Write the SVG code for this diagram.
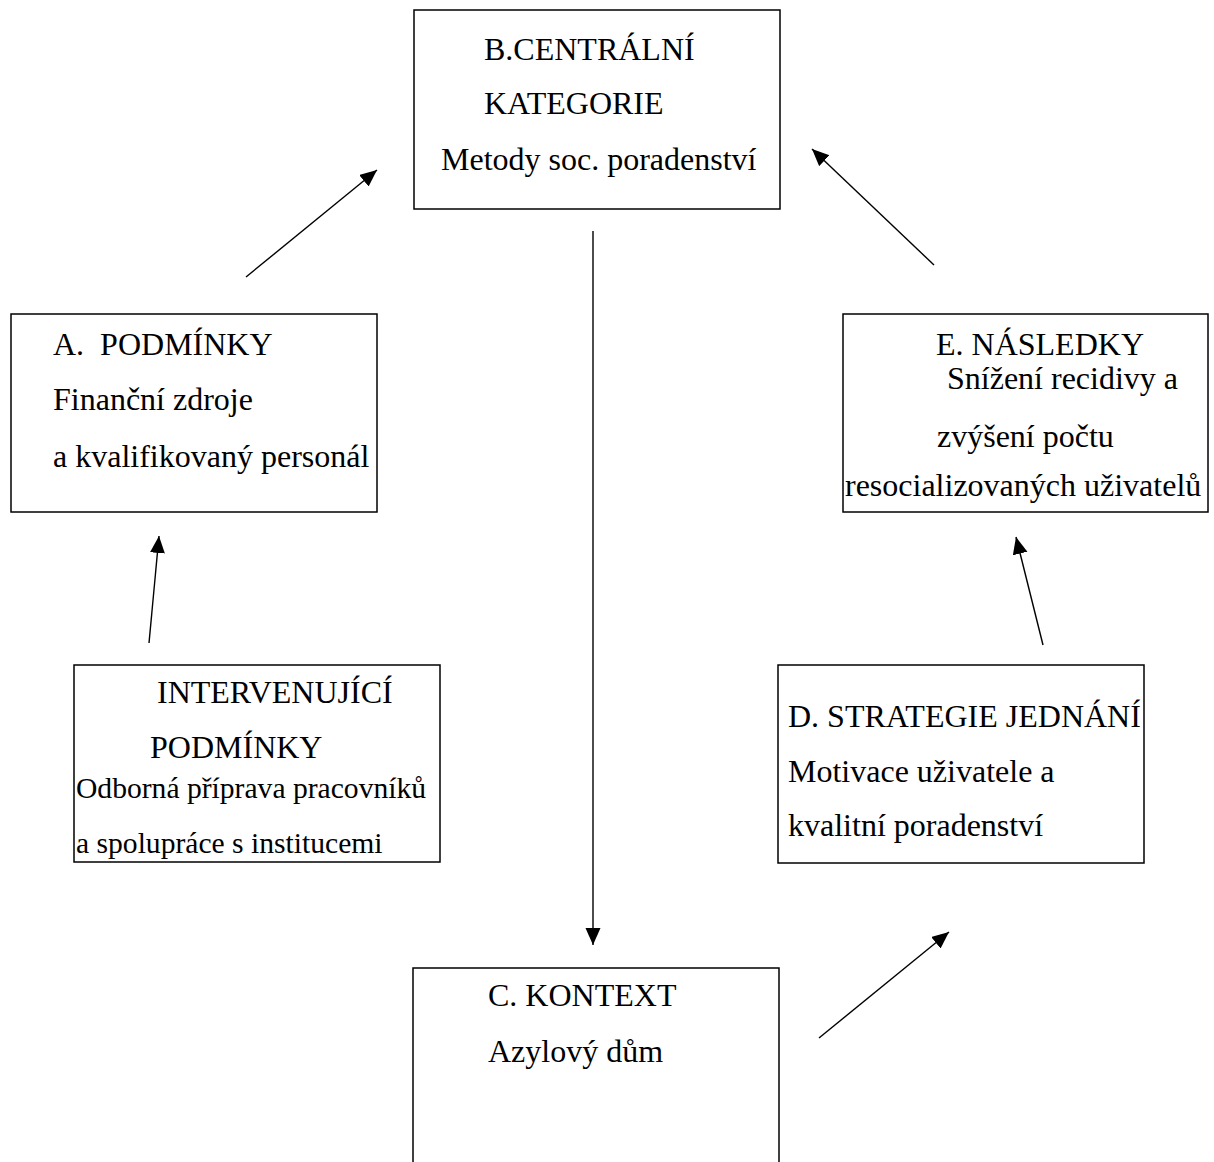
<svg xmlns="http://www.w3.org/2000/svg" width="1214" height="1162" viewBox="0 0 1214 1162">
<style>
.box{fill:#fff;stroke:#000;stroke-width:1.5}
.t{font-family:"Liberation Serif","Times New Roman",serif;font-size:32px;fill:#000}
.s{font-size:29.6px}
.c{stroke:#000;stroke-width:1.4;fill:none;marker-end:url(#ah)}
</style>
<defs>
<marker id="ah" markerUnits="userSpaceOnUse" markerWidth="18" markerHeight="16" refX="17" refY="7.5" orient="auto">
<path d="M0,0 L17,7.5 L0,15 z" fill="#000"/>
</marker>
</defs>
<rect width="1214" height="1162" fill="#fff"/>
<g id="node-B">
<rect class="box" x="414" y="10" width="366" height="199"/>
<text class="t" x="484" y="60">B.CENTRÁLNÍ</text>
<text class="t" x="484" y="114">KATEGORIE</text>
<text class="t" x="441" y="170">Metody soc. poradenství</text>
</g>
<g id="node-A">
<rect class="box" x="11" y="314" width="366" height="198"/>
<text class="t" x="53" y="355" xml:space="preserve">A.  PODMÍNKY</text>
<text class="t" x="53" y="410">Finanční zdroje</text>
<text class="t" x="53" y="467">a kvalifikovaný personál</text>
</g>
<g id="node-E">
<rect class="box" x="843" y="314" width="365" height="198"/>
<text class="t" x="936" y="355">E. NÁSLEDKY</text>
<text class="t" x="947" y="389">Snížení recidivy a</text>
<text class="t" x="937" y="447">zvýšení počtu</text>
<text class="t" x="845" y="496">resocializovaných uživatelů</text>
</g>
<g id="node-I">
<rect class="box" x="74" y="665" width="366" height="197"/>
<text class="t" x="157" y="703">INTERVENUJÍCÍ</text>
<text class="t" x="150" y="758">PODMÍNKY</text>
<text class="t s" x="76" y="798">Odborná příprava pracovníků</text>
<text class="t s" x="76" y="853">a spolupráce s institucemi</text>
</g>
<g id="node-D">
<rect class="box" x="778" y="665" width="366" height="198"/>
<text class="t" x="788" y="727">D. STRATEGIE JEDNÁNÍ</text>
<text class="t" x="788" y="782">Motivace uživatele a</text>
<text class="t" x="788" y="836">kvalitní poradenství</text>
</g>
<g id="node-C">
<rect class="box" x="413" y="968" width="366" height="220"/>
<text class="t" x="488" y="1006">C. KONTEXT</text>
<text class="t" x="488" y="1062">Azylový dům</text>
</g>
<g id="connectors">
<line class="c" x1="246" y1="277" x2="377" y2="170"/>
<line class="c" x1="934" y1="265" x2="812" y2="149"/>
<line class="c" x1="149" y1="643" x2="159" y2="536"/>
<line class="c" x1="1043" y1="645" x2="1016" y2="537"/>
<line class="c" x1="819" y1="1038" x2="949" y2="932"/>
<line class="c" x1="593" y1="231" x2="593" y2="945"/>
</g>
</svg>
